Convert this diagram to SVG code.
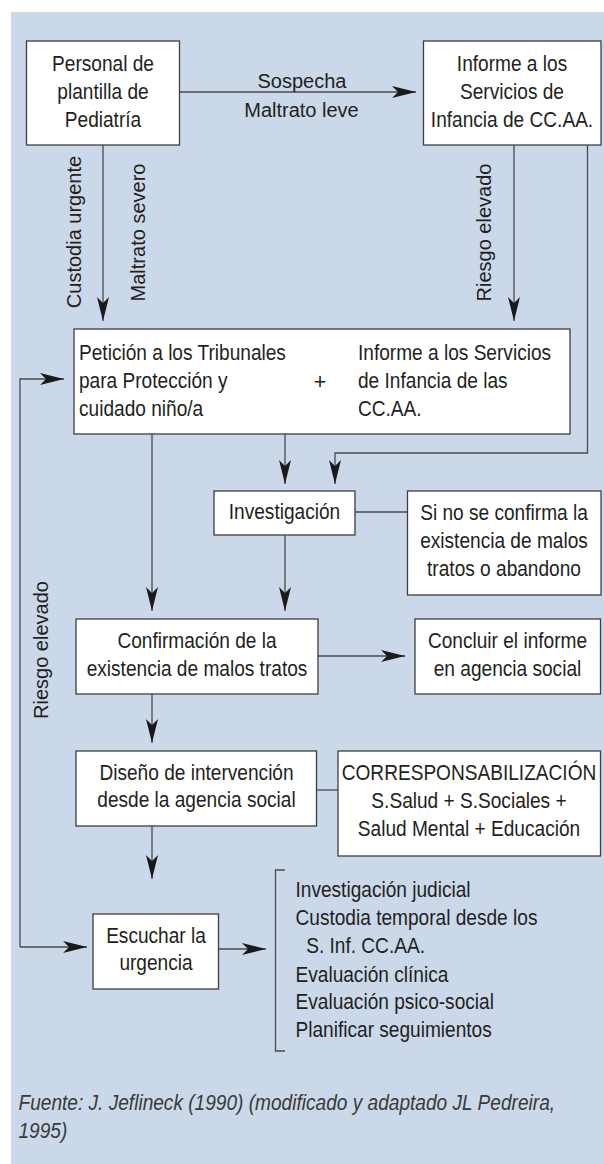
<svg xmlns="http://www.w3.org/2000/svg" width="604" height="1164" viewBox="0 0 604 1164">
<style>
.bg{fill:#cbd8ea}
.box{fill:#fff;stroke:#3e3e3e;stroke-width:1.3}
.ln{fill:none;stroke:#4a4a4a;stroke-width:1.3}
.t{font-family:"Liberation Sans",Arial,sans-serif;font-size:21.5px;fill:#231f20}
.c{text-anchor:middle}
.lbl{font-family:"Liberation Sans",Arial,sans-serif;font-size:20px;fill:#231f20;text-anchor:middle}
.foot{font-family:"Liberation Sans",Arial,sans-serif;font-size:21.5px;font-style:italic;fill:#3a3a3a}
</style>
<defs>
<marker id="ah" markerUnits="userSpaceOnUse" markerWidth="26" markerHeight="14" viewBox="0 0 26 14" refX="24" refY="7" orient="auto">
<path d="M0,1 L24,7 L0,13 L6,7 Z" fill="#1a1a1a"/>
</marker>
</defs>
<rect class="bg" x="11" y="12" width="593" height="1152"/>

<g id="connectors">
<path class="ln" d="M179.5,92 H416" marker-end="url(#ah)"/>
<path class="ln" d="M103,145 V321" marker-end="url(#ah)"/>
<path class="ln" d="M514,145 V321" marker-end="url(#ah)"/>
<path class="ln" d="M587.5,145 V453 H335 V484" marker-end="url(#ah)"/>
<path class="ln" d="M285,434 V484" marker-end="url(#ah)"/>
<path class="ln" d="M152,434 V611" marker-end="url(#ah)"/>
<path class="ln" d="M285,535 V611" marker-end="url(#ah)"/>
<path class="ln" d="M355,512 H407.5"/>
<path class="ln" d="M318,656 H405" marker-end="url(#ah)"/>
<path class="ln" d="M152,694 V743" marker-end="url(#ah)"/>
<path class="ln" d="M316.5,790 H338"/>
<path class="ln" d="M152,826 V879" marker-end="url(#ah)"/>
<path class="ln" d="M20,947 V379 H64" marker-end="url(#ah)"/>
<path class="ln" d="M20,947 H87" marker-end="url(#ah)"/>
<path class="ln" d="M218.5,949 H266" marker-end="url(#ah)"/>
<path class="ln" d="M285,870 H275.5 V1051 H285"/>
<text class="lbl" transform="translate(302,88)">Sospecha</text>
<text class="lbl" transform="translate(301.5,117)">Maltrato leve</text>
<text class="lbl" transform="translate(81,232) rotate(-90)">Custodia urgente</text>
<text class="lbl" transform="translate(144.5,232.5) rotate(-90)">Maltrato severo</text>
<text class="lbl" transform="translate(491,232.5) rotate(-90)">Riesgo elevado</text>
<text class="lbl" transform="translate(48,650) rotate(-90)">Riesgo elevado</text>
</g>

<g id="personal">
<rect class="box" x="26.5" y="41" width="153" height="104"/>
<text class="t c" transform="translate(103,70.5) scale(0.888,1)"><tspan x="0" y="0">Personal de</tspan><tspan x="0" y="28.5">plantilla de</tspan><tspan x="0" y="56.5">Pediatría</tspan></text>
</g>

<g id="informe">
<rect class="box" x="423.5" y="41" width="177.5" height="104"/>
<text class="t c" transform="translate(512,70.5) scale(0.888,1)"><tspan x="0" y="0">Informe a los</tspan><tspan x="0" y="28.5">Servicios de</tspan><tspan x="0" y="56.5">Infancia de CC.AA.</tspan></text>
</g>

<g id="peticion">
<rect class="box" x="74" y="329" width="496" height="105"/>
<text class="t" transform="translate(79,360) scale(0.888,1)"><tspan x="0" y="0">Petición a los Tribunales</tspan><tspan x="0" y="28">para Protección y</tspan><tspan x="0" y="56">cuidado niño/a</tspan></text>
<text class="t c" x="320" y="389">+</text>
<text class="t" transform="translate(358,360) scale(0.888,1)"><tspan x="0" y="0">Informe a los Servicios</tspan><tspan x="0" y="28">de Infancia de las</tspan><tspan x="0" y="56">CC.AA.</tspan></text>
</g>

<g id="investigacion">
<rect class="box" x="214" y="491" width="141" height="44"/>
<text class="t c" transform="translate(284.5,519) scale(0.888,1)">Investigación</text>
</g>

<g id="sinoconfirma">
<rect class="box" x="407.5" y="491" width="193.5" height="104"/>
<text class="t c" transform="translate(504,520) scale(0.888,1)"><tspan x="0" y="0">Si no se confirma la</tspan><tspan x="0" y="28">existencia de malos</tspan><tspan x="0" y="56">tratos o abandono</tspan></text>
</g>

<g id="confirmacion">
<rect class="box" x="76" y="619" width="242" height="75"/>
<text class="t c" transform="translate(197,648) scale(0.888,1)"><tspan x="0" y="0">Confirmación de la</tspan><tspan x="0" y="28">existencia de malos tratos</tspan></text>
</g>

<g id="concluir">
<rect class="box" x="415" y="619" width="185.5" height="75"/>
<text class="t c" transform="translate(507.5,648) scale(0.888,1)"><tspan x="0" y="0">Concluir el informe</tspan><tspan x="0" y="28">en agencia social</tspan></text>
</g>

<g id="diseno">
<rect class="box" x="76" y="751" width="240.5" height="75"/>
<text class="t c" transform="translate(196.5,780) scale(0.888,1)"><tspan x="0" y="0">Diseño de intervención</tspan><tspan x="0" y="27.5">desde la agencia social</tspan></text>
</g>

<g id="corresponsabilizacion">
<rect class="box" x="338" y="751" width="262.5" height="105"/>
<text class="t c" transform="translate(469,780) scale(0.888,1)"><tspan x="0" y="0">CORRESPONSABILIZACIÓN</tspan><tspan x="0" y="28">S.Salud + S.Sociales +</tspan><tspan x="0" y="56">Salud Mental + Educación</tspan></text>
</g>

<g id="escuchar">
<rect class="box" x="93" y="914" width="125.5" height="75"/>
<text class="t c" transform="translate(156,943) scale(0.888,1)"><tspan x="0" y="0">Escuchar la</tspan><tspan x="0" y="27">urgencia</tspan></text>
</g>

<g id="acciones">
<text class="t" transform="translate(295.5,897) scale(0.888,1)"><tspan x="0" y="0">Investigación judicial</tspan><tspan x="0" y="28">Custodia temporal desde los</tspan><tspan x="12" y="56">S. Inf. CC.AA.</tspan><tspan x="0" y="85">Evaluación clínica</tspan><tspan x="0" y="112">Evaluación psico-social</tspan><tspan x="0" y="140">Planificar seguimientos</tspan></text>
</g>

<g id="fuente">
<text class="foot" transform="translate(18.5,1110) scale(0.888,1)"><tspan x="0" y="0">Fuente: J. Jeflineck (1990) (modificado y adaptado JL Pedreira,</tspan><tspan x="0" y="28">1995)</tspan></text>
</g>
</svg>
